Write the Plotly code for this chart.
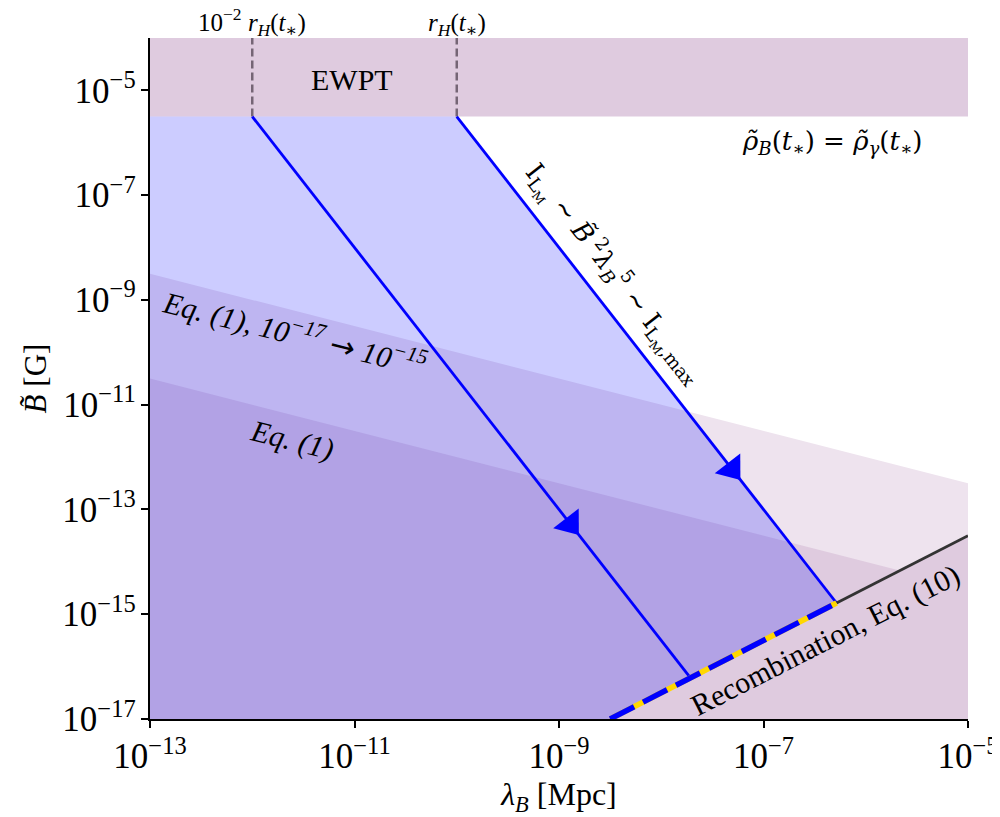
import numpy as np
import plotly.graph_objects as go

# ---- data (log10 values) ----
lam_edges = [1e-13, 1e-5]                 # x-axis range (Mpc)
B_edges = [1e-17, 1e-4]                   # y-axis range (G)
B_ewpt = 10**-5.5                         # rho_B(t*) = rho_gamma(t*)
lam_H = [1e-12, 1e-10]                    # 10^-2 r_H(t*), r_H(t*)
eq1_B = [10**-10.5, 10**-14.5]            # Eq. (1) boundary at lam_edges
eq1_shift_B = [10**-8.5, 10**-12.5]       # Eq. (1), 1e-17 -> 1e-15 boundary
recomb_lam = [10**-8.5, 1e-5]             # Recombination, Eq. (10)
recomb_B = [1e-17, 10**-13.5]
slope_helicity = -2.5                     # B^2 lambda^5 = const
arrow_lam = [10**-8.89, 10**-7.31]        # arrow head positions on the two lines

# ---- derived geometry ----
lx0, lx1 = np.log10(lam_edges)
ly0, ly1 = np.log10(B_edges)
lew = np.log10(B_ewpt)
rec_k = np.log10(recomb_B[1]) - np.log10(recomb_lam[1])  # log B = log lam + rec_k


def hel_line(l_start):
    L_int = (lew - slope_helicity * l_start - rec_k) / (1 - slope_helicity)
    return L_int, L_int + rec_k


DARK = "#dfcbdf"
LIGHT = "#eee3ee"
BLUE_FILL = "rgba(0,0,255,0.2)"
FONT = "Liberation Serif, DejaVu Serif, serif"
DJ = "DejaVu Serif, serif"

W, H = 992, 809
M = dict(l=142, r=32, t=30, b=98)

fig = go.Figure()


def poly(xs, ys, color):
    fig.add_trace(go.Scatter(x=xs, y=ys, fill="toself", fillcolor=color, mode="none",
                             hoverinfo="skip", showlegend=False))


poly([lam_edges[0], lam_edges[1], lam_edges[1], lam_edges[0]],
     [B_ewpt, B_ewpt, B_edges[1], B_edges[1]], DARK)
poly([lam_edges[0], lam_edges[0], lam_edges[1], lam_edges[1]],
     [B_edges[0], eq1_shift_B[0], eq1_shift_B[1], B_edges[0]], LIGHT)
poly([lam_edges[0], lam_edges[0], lam_edges[1], lam_edges[1]],
     [B_edges[0], eq1_B[0], eq1_B[1], B_edges[0]], DARK)
poly([recomb_lam[0], recomb_lam[1], recomb_lam[1]],
     [recomb_B[0], recomb_B[1], B_edges[0]], DARK)

L2, B2 = hel_line(np.log10(lam_H[1]))
L1, B1 = hel_line(np.log10(lam_H[0]))
poly([lam_edges[0], lam_H[1], 10**L2, recomb_lam[0], lam_edges[0]],
     [B_ewpt, B_ewpt, 10**B2, recomb_B[0], B_edges[0]], BLUE_FILL)

for lh in lam_H:
    fig.add_trace(go.Scatter(x=[lh, lh], y=[B_ewpt, B_edges[1]], mode="lines",
                             line=dict(color="rgba(90,75,90,0.8)", width=2.5, dash="8px,4px"),
                             hoverinfo="skip", showlegend=False))

for lh, (Li, Bi) in zip(lam_H, [(L1, B1), (L2, B2)]):
    fig.add_trace(go.Scatter(x=[lh, 10**Li], y=[B_ewpt, 10**Bi], mode="lines",
                             line=dict(color="#0000ff", width=2.8),
                             hoverinfo="skip", showlegend=False))

fig.add_trace(go.Scatter(x=[10**L2, recomb_lam[1]], y=[10**B2, recomb_B[1]], mode="lines",
                         line=dict(color="#333333", width=2.8), hoverinfo="skip", showlegend=False))
fig.add_trace(go.Scatter(x=[recomb_lam[0], 10**L2], y=[recomb_B[0], 10**B2], mode="lines",
                         line=dict(color="#ffd700", width=5.5), hoverinfo="skip", showlegend=False))
fig.add_trace(go.Scatter(x=[recomb_lam[0], 10**L2], y=[recomb_B[0], 10**B2], mode="lines",
                         line=dict(color="#0000ff", width=5.5, dash="27px,10px"),
                         hoverinfo="skip", showlegend=False))

# arrow heads (screen angle of the B^2 lambda^5 = const lines)
px_per_dec_x = (W - M["l"] - M["r"]) / (lx1 - lx0)
px_per_dec_y = (H - M["t"] - M["b"]) / (ly1 - ly0)
ang = 90 + np.degrees(np.arctan2(-slope_helicity * px_per_dec_y, px_per_dec_x))
for lh, la in zip(lam_H, arrow_lam):
    l_start = np.log10(lh)
    La = np.log10(la)
    fig.add_trace(go.Scatter(x=[la], y=[10**(lew + slope_helicity * (La - l_start))], mode="markers",
                             marker=dict(symbol="triangle-up", size=28, color="#0000ff",
                                         angle=ang, line=dict(width=0)),
                             hoverinfo="skip", showlegend=False))

ann_font = dict(family=FONT, size=30, color="black")
top_font = dict(family=FONT, size=25, color="black")
rho_font = dict(family=DJ, size=26, color="black")
arrow_span = '<span style="font-family:DejaVu Sans">→</span>'
annotations = [
    dict(x=np.log10(lam_H[0]), y=1, xref="x", yref="paper", yanchor="bottom", yshift=-4,
         text="10<sup>−2</sup> <i>r<sub>H</sub></i>(<i>t</i><sub>∗</sub>)", font=top_font),
    dict(x=np.log10(lam_H[1]), y=1, xref="x", yref="paper", yanchor="bottom", yshift=-4,
         text="<i>r<sub>H</sub></i>(<i>t</i><sub>∗</sub>)", font=top_font),
    dict(x=-11.02, y=-4.79, text="EWPT"),
    dict(x=-6.33, y=-6.0, font=rho_font,
         text="<i>ρ̃</i><sub><i>B</i></sub>(<i>t</i><sub>∗</sub>) = <i>ρ̃</i><sub><i>γ</i></sub>(<i>t</i><sub>∗</sub>)"),
    dict(x=-8.46, y=-8.5, textangle=52, font=dict(family=DJ, size=26, color="black"),
         text="I<sub>L<sub>M</sub></sub> ∼ <i>B̃</i><sup> 2</sup><i>λ</i><sub><i>B</i></sub><sup>5</sup> ∼ I<sub>L<sub>M</sub>,max</sub>"),
    dict(x=-11.58, y=-9.62, textangle=14,
         text="<i>Eq. (1), 10<sup>−17</sup> </i>" + arrow_span + "<i> 10<sup>−15</sup></i>"),
    dict(x=-11.61, y=-11.67, textangle=14, text="<i>Eq. (1)</i>"),
    dict(x=-6.39, y=-15.49, textangle=-27, text="Recombination, Eq. (10)"),
]
for a in annotations:
    a.setdefault("xref", "x")
    a.setdefault("yref", "y")
    a.setdefault("font", ann_font)
    a["showarrow"] = False
    fig.add_annotation(**a)

axis_common = dict(type="log", showgrid=False, zeroline=False, showline=True, automargin=False,
                   linecolor="black", linewidth=1.5, ticks="outside", ticklen=7,
                   tickwidth=1.5, tickcolor="black", exponentformat="power",
                   dtick=2, tickfont=dict(family=FONT, size=28, color="black"), mirror=False)

fig.update_layout(
    width=W, height=H,
    margin=M,
    plot_bgcolor="white", paper_bgcolor="white",
    xaxis=dict(axis_common, range=[lx0, lx1], tick0=-13,
               title=dict(text="<i>λ<sub>B</sub></i> [Mpc]", font=dict(family=FONT, size=32, color="black"),
                          standoff=6)),
    yaxis=dict(axis_common, range=[ly0, ly1], tick0=-17,
               title=dict(text="<i>B̃</i> [G]", font=dict(family=FONT, size=31, color="black"),
                          standoff=6)),
)

fig.write_html("out.html")
